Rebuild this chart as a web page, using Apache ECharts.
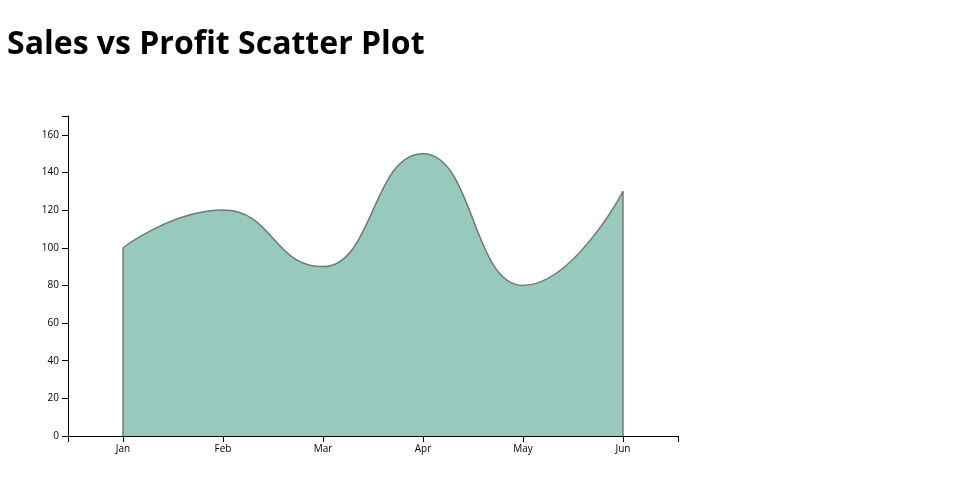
<!DOCTYPE html>
<html><head><meta charset="utf-8">
<script src="https://cdn.jsdelivr.net/npm/echarts@6/dist/echarts.min.js"></script>
<style>html,body{margin:0;padding:0;background:#fff}#c{width:960px;height:500px}</style>
</head><body><div id="c"></div>
<script>
const months = ['Jan','Feb','Mar','Apr','May','Jun'];
const sales = [100, 120, 90, 150, 80, 130];
const yTicks = [0,20,40,60,80,100,120,140,160];
const yMax = 170;
const xPad = 0.55;

const chart = echarts.init(document.getElementById('c'), null, {renderer:'canvas'});
const idx = months.map((m,i)=>i);
const pts = sales.map((v,i)=>[i, v]);
const last = months.length - 1;
const font = '"Open Sans", sans-serif';
chart.setOption({
  animation: false,
  title: { text: 'Sales vs Profit Scatter Plot', left: 2, top: 24,
    textStyle: { fontFamily: font, fontWeight: 'bold', fontSize: 32, color: '#000' } },
  grid: { left: 68, right: 282, top: 116, bottom: 64 },
  xAxis: {
    type: 'value', min: -xPad, max: last + xPad,
    axisLine: { show: true, onZero: false, lineStyle: { color: '#000', width: 1 } },
    axisTick: { show: true, length: 6, lineStyle: { color: '#000' }, customValues: [-xPad].concat(idx, [last + xPad]) },
    axisLabel: { customValues: idx, formatter: v => months[Math.round(v)], fontFamily: font, fontSize: 10, color: '#000', margin: 8 },
    splitLine: { show: false }
  },
  yAxis: {
    type: 'value', min: 0, max: yMax,
    axisLine: { show: true, onZero: false, lineStyle: { color: '#000', width: 1 } },
    axisTick: { show: true, length: 6, lineStyle: { color: '#000' }, customValues: yTicks.concat([yMax]) },
    axisLabel: { customValues: yTicks, fontFamily: font, fontSize: 10, color: '#000', margin: 9 },
    splitLine: { show: false }
  },
  series: [{
    type: 'line', data: pts, smooth: 0.5, smoothMonotone: 'x', symbol: 'none',
    lineStyle: { color: '#777', width: 1.5 },
    areaStyle: { color: '#97c9bd', opacity: 1 },
    markLine: { silent: true, symbol: 'none', label: { show: false },
      lineStyle: { color: '#777', width: 1.5, type: 'solid' },
      data: [
        [{ coord: [0, 0] }, { coord: [0, sales[0]] }],
        [{ coord: [last, 0] }, { coord: [last, sales[last]] }]
      ] }
  }]
});
</script></body></html>
